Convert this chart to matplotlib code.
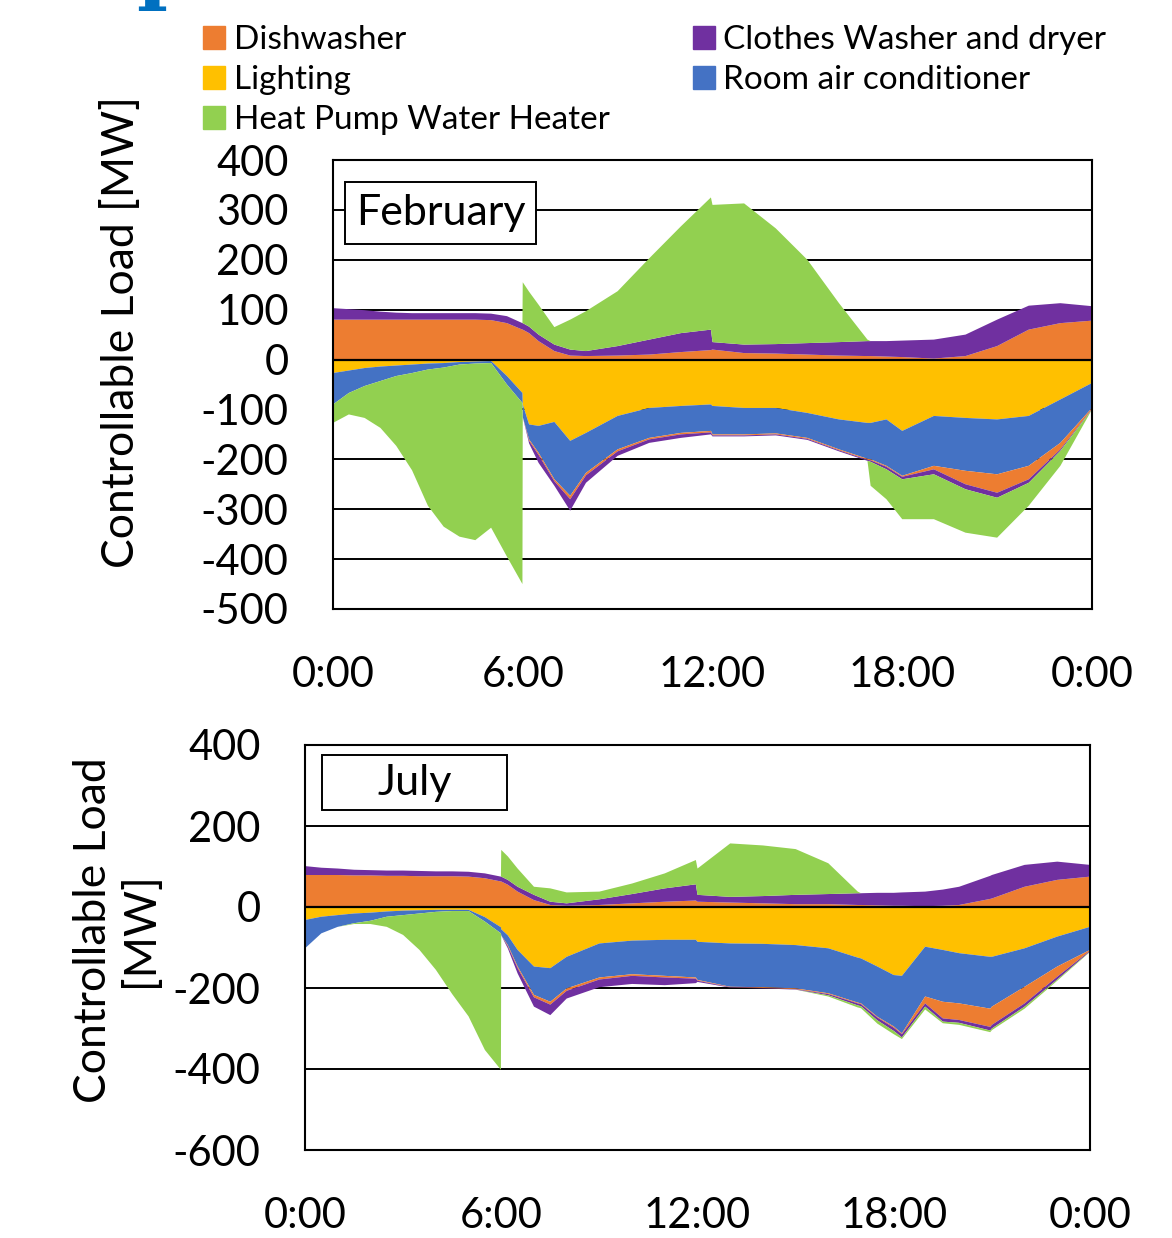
import matplotlib.pyplot as plt
from matplotlib.patches import Patch, Rectangle
import numpy as np

plt.rcParams['font.family'] = ['Lato', 'DejaVu Sans']
plt.rcParams['axes.unicode_minus'] = False

# colours (Excel palette)
C_DISH = '#ED7D31'
C_WASH = '#7030A0'
C_HPWH = '#92D050'
C_LIGHT = '#FFC000'
C_AC = '#4472C4'

# ---------------- February ----------------
feb_hours = [0, 0.5, 1, 1.5, 2, 2.5, 3, 3.5, 4, 4.5, 5, 5.5, 5.99, 6.0, 6.2, 6.5, 7, 7.5, 8,
             9, 10, 11, 11.95, 12.0, 13, 14, 15, 16, 16.9, 17.0, 17.5, 18, 19, 20, 21, 22, 23, 24]
# upward (positive) flexibility
feb_dish_up = [80, 80, 80, 80, 80, 80, 80, 80, 80, 80, 79, 73, 60, 60, 53, 37, 17, 8, 7,
               8, 10, 15, 19, 20, 13, 12, 10, 8, 7, 7, 6, 5, 2, 7, 27, 60, 73, 78]
feb_wash_up = [23, 21, 19, 16, 14, 13, 13, 13, 13, 13, 13, 14, 13, 13, 13, 13, 13, 12, 10,
               19, 30, 38, 41, 15, 17, 19, 23, 27, 30, 30, 31, 33, 38, 43, 53, 48, 40, 29]
feb_hpwh_up = [0, 0, 0, 0, 0, 0, 0, 0, 0, 0, 0, 0, 0, 82, 70, 60, 35, 60, 80,
               110, 163, 214, 265, 275, 283, 232, 167, 78, 3, 0, 0, 0, 0, 0, 0, 0, 0, 0]
# downward (negative) flexibility, magnitudes
feb_light_dn = [27, 22, 17, 14, 12, 10, 8, 7, 5, 4, 3, 33, 67, 90, 130, 133, 125, 163, 147,
                113, 97, 93, 90, 93, 97, 97, 107, 120, 127, 127, 120, 143, 113, 117, 120, 113, 80, 47]
feb_ac_dn = [63, 45, 36, 29, 21, 17, 12, 9, 5, 4, 4, 17, 20, 25, 30, 54, 115, 110, 80,
             67, 60, 54, 53, 57, 53, 51, 50, 60, 72, 73, 93, 90, 100, 106, 110, 100, 87, 50]
feb_dish_dn = [0, 0, 0, 0, 0, 0, 0, 0, 0, 0, 0, 0, 0, 0, 3, 4, 4, 7, 5,
               4, 3, 3, 3, 2, 2, 2, 2, 2, 2, 2, 2, 2, 7, 27, 37, 27, 13, 2]
feb_wash_dn = [0, 0, 0, 0, 0, 0, 0, 0, 0, 0, 0, 0, 0, 0, 5, 16, 9, 23, 15,
               9, 7, 7, 4, 2, 2, 2, 2, 2, 2, 3, 5, 5, 10, 10, 10, 7, 3, 1]
feb_hpwh_dn = [37, 43, 64, 94, 140, 195, 273, 319, 345, 354, 330, 345, 363, 0, 0, 0, 0, 0, 0,
               0, 0, 0, 0, 0, 0, 0, 0, 0, 0, 48, 60, 80, 90, 87, 80, 46, 30, 0]

# ---------------- July ----------------
jul_hours = [0, 0.5, 1, 1.5, 2, 2.5, 3, 3.5, 4, 4.5, 5, 5.5, 5.99, 6.0, 6.2, 6.5, 7, 7.5, 8,
             9, 10, 11, 11.95, 12.0, 13, 14, 15, 16, 16.9, 17.0, 17.5, 18, 18.25, 18.96,
             19.5, 20, 20.95, 21, 22, 23, 24]
jul_dish_up = [79, 79, 79, 78, 78, 77, 77, 76, 76, 76, 75, 71, 63, 63, 55, 38, 17, 5, 3,
               5, 9, 13, 16, 13, 11, 9, 7, 7, 5, 5, 4, 3, 3, 2,
               3, 5, 20, 21, 50, 67, 75]
jul_wash_up = [22, 18, 16, 14, 13, 13, 13, 13, 12, 12, 12, 12, 12, 12, 12, 12, 13, 8, 6,
               14, 23, 33, 40, 17, 14, 18, 23, 25, 29, 29, 31, 32, 33, 36,
               40, 45, 57, 58, 54, 45, 29]
jul_hpwh_up = [0, 0, 0, 0, 0, 0, 0, 0, 0, 0, 0, 0, 0, 66, 58, 45, 20, 33, 27,
               19, 26, 37, 60, 65, 132, 125, 113, 76, 4, 0, 0, 0, 0, 0,
               0, 0, 0, 0, 0, 0, 0]
jul_light_dn = [32, 24, 20, 16, 14, 11, 9, 8, 7, 7, 7, 25, 50, 55, 70, 106, 147, 151, 123,
                90, 83, 81, 81, 86, 90, 91, 94, 102, 125, 127, 147, 168, 170, 98,
                106, 114, 123, 123, 102, 73, 49]
jul_ac_dn = [70, 41, 29, 24, 20, 13, 11, 8, 5, 3, 3, 11, 15, 15, 24, 41, 70, 83, 78,
             84, 83, 89, 93, 94, 107, 107, 107, 111, 111, 111, 124, 127, 142, 123,
             128, 124, 128, 123, 95, 74, 57]
jul_dish_dn = [0, 0, 0, 0, 0, 0, 0, 0, 0, 0, 0, 0, 0, 0, 3, 4, 6, 7, 6,
               5, 4, 4, 3, 2, 1, 2, 2, 2, 2, 2, 2, 3, 2, 17,
               41, 41, 45, 45, 41, 25, 2]
jul_wash_dn = [0, 0, 0, 0, 0, 0, 0, 0, 0, 0, 0, 0, 0, 0, 5, 13, 23, 26, 19,
               19, 20, 19, 11, 3, 1, 1, 1, 3, 5, 5, 7, 8, 8, 8,
               8, 7, 9, 9, 8, 7, 2]
jul_hpwh_dn = [0, 0, 0, 2, 8, 25, 49, 90, 143, 205, 260, 317, 337, 0, 0, 0, 0, 0, 0,
               0, 0, 0, 0, 0, 0, 0, 0, 3, 5, 5, 8, 8, 4, 7,
               4, 5, 4, 4, 5, 3, 1]

labels = ['Dishwasher', 'Lighting', 'Heat Pump Water Heater',
          'Clothes Washer and dryer', 'Room air conditioner']
xtick_labels = ['0:00', '6:00', '12:00', '18:00', '0:00']


def panel(ax, hours, up, down, yticks, month, box):
    ax.stackplot(hours, *up, colors=[C_DISH, C_WASH, C_HPWH], linewidth=0, zorder=2)
    ax.stackplot(hours, *[-np.array(d) for d in down],
                 colors=[C_LIGHT, C_AC, C_DISH, C_WASH, C_HPWH], linewidth=0, zorder=2)
    ax.axhline(0, color='black', lw=1.6, zorder=3)
    ax.set_xlim(0, 24)
    ax.set_ylim(yticks[0], yticks[-1])
    ax.set_yticks(yticks)
    ax.set_xticks([0, 6, 12, 18, 24])
    ax.set_xticklabels(xtick_labels)
    ax.grid(axis='y', color='black', lw=1.4)
    ax.set_axisbelow(True)
    ax.tick_params(length=0, labelsize=30)
    ax.tick_params(axis='y', pad=32)
    ax.tick_params(axis='x', pad=34)
    for s in ax.spines.values():
        s.set_linewidth(1.5)
        s.set_color('black')
    x0, y0, w, h = box
    ax.add_patch(Rectangle((x0, y0), w, h, transform=ax.transAxes, fc='white',
                           ec='black', lw=1.4, zorder=4))
    ax.text(x0 + w / 2, y0 + h / 2, month, transform=ax.transAxes, ha='center',
            va='center', fontsize=31, zorder=5)


fig = plt.figure(figsize=(11.72, 12.38), dpi=100)

ax1 = fig.add_axes([333 / 1172, 1 - 609 / 1238, 759 / 1172, 449 / 1238])
panel(ax1, feb_hours, [feb_dish_up, feb_wash_up, feb_hpwh_up],
      [feb_light_dn, feb_ac_dn, feb_dish_dn, feb_wash_dn, feb_hpwh_dn],
      np.arange(-500, 401, 100), 'February', (0.0158, 0.813, 0.2516, 0.138))

ax2 = fig.add_axes([305 / 1172, 1 - 1150 / 1238, 785 / 1172, 405 / 1238])
panel(ax2, jul_hours, [jul_dish_up, jul_wash_up, jul_hpwh_up],
      [jul_light_dn, jul_ac_dn, jul_dish_dn, jul_wash_dn, jul_hpwh_dn],
      np.arange(-600, 401, 200), 'July', (0.0217, 0.8395, 0.2357, 0.1355))

fig.text(122 / 1172, 1 - 332 / 1238, 'Controllable Load [MW]', rotation=90,
         ha='center', va='center', fontsize=32)
fig.text(117 / 1172, 1 - 930 / 1238, 'Controllable Load\n[MW]', rotation=90,
         ha='center', va='center', fontsize=32, linespacing=1.2, multialignment='center')

# cut-off heading letter at the very top
fig.text(136 / 1172, 1 + 6 / 1238, 'p', color='#0070C0', fontsize=60,
         family='DejaVu Serif', weight='bold', va='baseline', ha='left')

handles = [Patch(color=c) for c in [C_DISH, C_LIGHT, C_HPWH, C_WASH, C_AC]]
fig.legend(handles, labels, ncol=2, loc='upper left', bbox_to_anchor=(190 / 1172, 1 - 12 / 1238),
           frameon=False, fontsize=24, handlelength=0.66, handleheight=0.66,
           handletextpad=0.25, labelspacing=0.3, columnspacing=2.5, borderaxespad=0)

fig.savefig('out.png', dpi=100)
